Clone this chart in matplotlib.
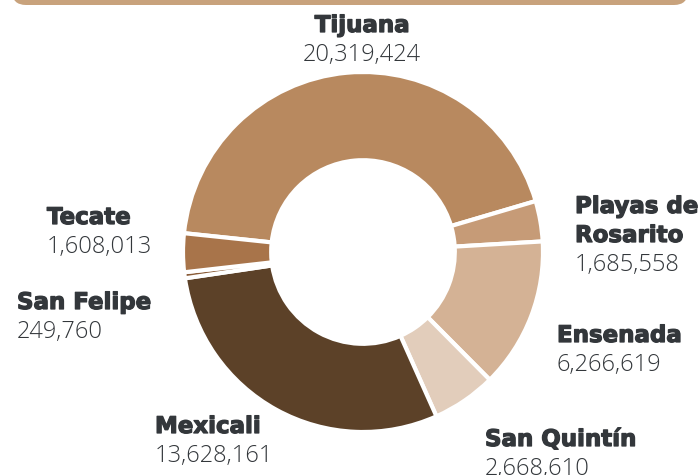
import numpy as np
import matplotlib
matplotlib.use('Agg')
import matplotlib.pyplot as plt
import matplotlib.patheffects as pe
from matplotlib.patches import FancyBboxPatch

# municipalities in clockwise order starting from Tijuana
names = [["Tijuana"], ["Playas de", "Rosarito"], ["Ensenada"], ["San Quintín"],
         ["Mexicali"], ["San Felipe"], ["Tecate"]]
values = [20319424, 1685558, 6266619, 2668610, 13628161, 249760, 1608013]
colors = ["#b8895f", "#c69b77", "#d4b295", "#e2cdbb",
          "#5c4128", "#8a5c38", "#a8744a"]

# label anchors in figure pixels (x, baseline y of first line) and alignment
label_pos = [(362, 32, "center"), (575, 213, "left"), (557, 342, "left"),
             (485, 446, "left"), (155, 433, "left"), (17, 309, "left"),
             (47, 224, "left")]
step = 29

W, H = 700, 475
fig = plt.figure(figsize=(7, 4.75), dpi=100)

# top banner
banner = FancyBboxPatch((12 / W, 1.0 - 5 / H), 676 / W, 40 / H,
                        boxstyle="round,pad=0,rounding_size=0.02",
                        transform=fig.transFigure, facecolor="#c8a27c",
                        edgecolor="none", mutation_aspect=W / H)
fig.patches.append(banner)

cx, cy, r = 363, 252, 180
ax = fig.add_axes([(cx - r) / W, (H - cy - r) / H, 2 * r / W, 2 * r / H])
ax.pie(values, colors=colors, startangle=174, counterclock=False, radius=1,
       wedgeprops=dict(width=0.49, edgecolor="white", linewidth=3))
ax.set_xlim(-1.0, 1.0)
ax.set_ylim(-1.0, 1.0)
ax.axis("off")

heavy = [pe.withStroke(linewidth=0.9, foreground="#33373b")]
for lines, val, (x, y, ha) in zip(names, values, label_pos):
    for i, line in enumerate(lines):
        fig.text(x / W, 1 - (y + i * step) / H, line, ha=ha, va="baseline",
                 fontsize=16.5, fontweight="bold", color="#33373b",
                 family="DejaVu Sans", path_effects=heavy)
    fig.text(x / W, 1 - (y + len(lines) * step) / H, f"{val:,}", ha=ha,
             va="baseline", fontsize=17, color="#33373b", family="Open Sans",
             fontweight="light")

plt.savefig("out.png", dpi=100)
